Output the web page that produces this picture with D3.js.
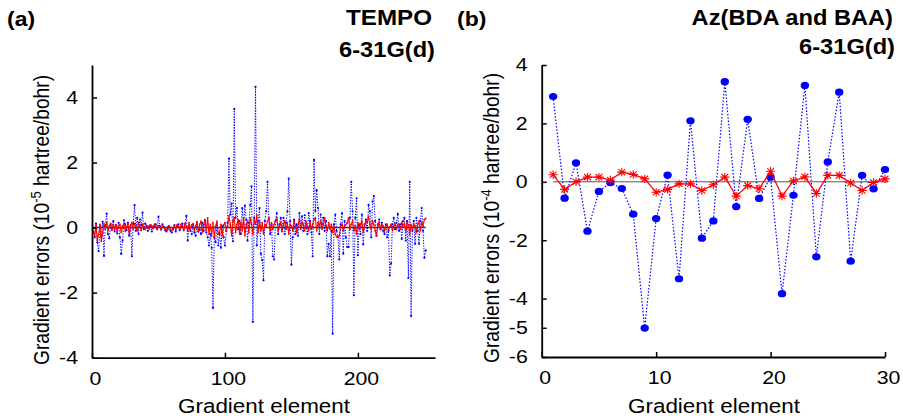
<!DOCTYPE html>
<html><head><meta charset="utf-8">
<script src="https://cdn.jsdelivr.net/npm/d3@7"></script>
<style>
body{margin:0;background:#fff}
text{font-family:"Liberation Sans",Arial,Helvetica,sans-serif;fill:#000}
</style>
</head><body>
<svg id="c" width="903" height="416"></svg>
<script>
// ---------- DATA ----------
// Panel (a): TEMPO, 6-31G(d), gradient errors (1e-5 hartree/bohr), element 1..251
const tempoBlue = [
 -0.15,-0.3,0.12,-0.45,-0.72,0.05,-0.28,0.18,-0.87,0.06,
 0.43,-0.2,-0.33,0.1,-0.05,0.2,-0.12,0.08,-0.18,0.15,
 -0.3,-0.81,-0.4,0.22,0.1,-0.08,0.15,-0.25,0.05,-0.88,
 0.12,0.69,-0.1,0.3,-0.2,0.25,0.08,0.46,-0.05,0.12,
 0.06,-0.1,0.04,0.08,-0.12,0.02,0.05,0.1,-0.04,0.34,
 0.05,-0.06,0.1,0.02,-0.08,-0.12,-0.05,0.04,-0.1,-0.15,
 -0.05,0.08,-0.12,0.05,0.1,-0.08,0.02,0.12,-0.05,0.1,
 0.36,-0.4,0.05,-0.1,-0.2,0.08,-0.15,-0.25,0.1,-0.12,
 -0.05,-0.2,0.15,-0.1,0.22,-0.15,-0.3,-0.55,-0.2,-0.62,
 -2.47,-0.3,-0.45,0.1,-0.55,-0.2,-0.62,0.05,-0.3,-0.55,
 -0.1,0.15,2.12,0.4,0.74,-0.42,3.65,0.3,0.6,-0.05,
 0.2,-0.2,0.6,0.1,0.68,0.25,-0.4,0.15,0.7,1.27,
 -2.9,0.3,4.33,-0.55,0.2,0.6,-0.8,-1.0,-1.62,0.2,
 0.5,1.41,0.3,-0.2,0.1,-0.88,-0.98,0.2,0.45,-0.2,
 0.1,0.3,-0.1,0.3,-0.2,0.15,0.5,1.51,0.2,-1.14,
 -0.3,0.25,-0.2,0.1,-0.25,0.45,0.05,0.35,-0.1,0.38,
 0.1,-0.2,0.45,0.2,-0.15,-0.88,2.08,0.5,1.15,0.6,
 -0.2,0.4,0.1,0.3,-0.1,0.2,-0.88,-0.5,-0.88,-0.1,
 -3.26,0.1,0.4,-0.1,-0.3,-0.98,0.1,0.45,-0.8,0.2,
 -0.3,-0.6,-0.6,0.3,1.41,0.5,-2.08,0.3,0.9,-0.85,
 0.1,-0.2,0.4,-0.52,0.1,0.25,-0.1,0.7,0.5,-0.3,
 0.8,0.97,0.2,-0.25,0.1,0.25,-0.05,0.15,-0.1,-0.2,
 0.1,-0.3,-0.1,-1.47,-1.1,0.1,0.3,-0.05,0.15,0.42,
 -0.1,0.1,-0.35,0.2,0.3,-0.4,0.2,-1.55,1.41,-2.72,
 -0.1,0.2,-0.5,0.3,-0.1,-0.5,0.2,0.6,-0.1,-0.93,
 -0.7
];
const tempoRed = [
 -0.1,-0.25,0.08,-0.38,-0.2,0.1,-0.42,-0.15,0.12,-0.05,
 0.15,-0.1,0.05,0.12,-0.08,0.1,-0.05,0.08,-0.12,0.06,
 0.1,-0.15,0.05,0.12,-0.1,0.02,0.1,-0.2,0.08,0.15,
 -0.05,0.12,0.05,-0.1,0.15,0.05,-0.08,0.1,0.02,-0.05,
 0.06,0.02,-0.04,0.08,0.05,-0.03,0.1,0.04,-0.06,0.05,
 0.02,-0.04,0.06,0.0,-0.05,-0.08,0.03,0.05,-0.06,-0.1,
 -0.02,0.06,-0.05,0.08,0.04,-0.06,0.1,0.05,-0.08,0.12,
 0.05,-0.1,0.15,-0.05,0.08,0.12,-0.1,0.05,0.18,-0.12,
 0.1,0.2,-0.15,0.08,0.25,-0.1,0.3,-0.2,0.1,-0.25,
 0.15,-0.3,0.05,0.2,-0.2,-0.15,0.1,-0.25,0.08,0.15,
 -0.1,0.05,0.36,0.1,-0.25,0.2,0.3,-0.15,0.1,0.25,
 -0.2,0.15,-0.1,0.3,-0.25,0.1,0.2,-0.15,0.3,0.1,
 -0.2,0.25,0.1,0.38,-0.15,0.2,-0.1,0.15,-0.2,0.1,
 0.05,0.2,0.3,-0.1,0.15,-0.05,0.1,0.2,0.3,-0.1,
 0.05,0.15,-0.12,0.1,0.2,-0.05,0.15,-0.2,0.1,0.05,
 -0.1,0.2,0.05,-0.15,0.1,0.25,-0.05,0.15,0.1,-0.1,
 0.2,0.05,-0.1,0.15,-0.05,0.1,0.25,0.3,-0.1,0.15,
 0.05,0.2,-0.05,0.1,0.3,0.05,-0.1,0.15,-0.05,0.1,
 -0.15,0.05,-0.2,-0.28,-0.3,-0.25,0.05,0.1,-0.1,0.05,
 0.1,0.15,0.3,-0.05,0.1,0.2,-0.1,0.05,-0.2,0.15,
 -0.05,0.1,0.2,-0.15,0.05,0.2,0.15,0.35,0.1,-0.05,
 0.2,0.1,-0.1,-0.25,0.05,0.15,-0.05,0.1,0.05,-0.1,
 0.05,0.1,-0.05,0.02,0.1,-0.08,0.05,0.12,-0.05,0.08,
 0.1,-0.05,0.15,0.05,0.12,-0.1,0.15,0.08,-0.2,0.1,
 -0.05,0.12,0.05,-0.15,0.1,0.2,-0.1,0.15,0.05,0.25,
 0.28
];
// Panel (b): Az(BDA and BAA), 6-31G(d), gradient errors (1e-4 hartree/bohr)
const azElements = [1,2,3,4,5,6,7,8,9,10,11,12,13,14,15,16,17,18,19,20,21,22,23,24,25,26,27,28,29,30];
const azBlue = [2.92,-0.56,0.65,-1.69,-0.33,-0.03,-0.23,-1.11,-5.01,-1.26,
                0.23,-3.32,2.09,-1.93,-1.34,3.43,-0.85,2.14,-0.57,0.16,
                -3.83,-0.46,3.30,-2.57,0.68,3.07,-2.72,0.22,-0.24,0.42];
const azRed = [0.24,-0.26,0.0,0.16,0.16,0.06,0.33,0.25,0.10,-0.36,
               -0.26,-0.07,-0.07,-0.30,-0.10,0.16,-0.49,-0.13,-0.24,0.36,
               -0.49,0.03,0.17,-0.40,0.22,0.22,-0.04,-0.30,-0.02,0.10];
// tick labels
const aTicksX = [0,100,200];
const aTicksY = [4,2,0,-2,-4];
const bTicksX = [0,10,20,30];
const bTicksY = [4,2,0,-2,-4,-5,-6];

// ---------- DRAW ----------
const svg = d3.select("#c");
const SX = 1.15;
const BLUE = "#0000ff", RED = "#ff0000";

function label(x, y, str, size, weight, anchor, sx) {
  return svg.append("text")
    .attr("transform", `translate(${x},${y}) scale(${sx},1)`)
    .attr("text-anchor", anchor).attr("font-size", size)
    .attr("font-weight", weight).text(str);
}
function yTitle(x, y, exp) {
  const t = svg.append("text")
    .attr("transform", `translate(${x},${y}) rotate(-90) scale(1,${SX})`)
    .attr("text-anchor", "middle").attr("font-size", 19.2);
  t.append("tspan").text("Gradient errors (10");
  t.append("tspan").attr("font-size", 13).attr("dy", -7).text(exp);
  t.append("tspan").attr("dy", 7).text(" hartree/bohr)");
}
function axes(x, y, xt, yt) {
  const fmt = d => String(d);
  const gx = svg.append("g").attr("transform", `translate(0,${y.range()[0]})`)
    .call(d3.axisBottom(x).tickValues(xt).tickSize(-5).tickSizeOuter(0).tickPadding(14).tickFormat(fmt));
  const gy = svg.append("g").attr("transform", `translate(${x.range()[0]},0)`)
    .call(d3.axisLeft(y).tickValues(yt).tickSize(-5).tickSizeOuter(0).tickPadding(14).tickFormat(fmt));
  [gx, gy].forEach(g => {
    g.attr("font-size", 18.5).attr("font-family", null);
    g.select(".domain").attr("stroke", "#000").attr("stroke-width", 1.8);
    g.selectAll(".tick line").attr("stroke", "#000").attr("stroke-width", 1.5);
    g.selectAll(".tick text").attr("fill", "#000");
  });
  gx.selectAll(".tick text").attr("transform", `scale(${SX},1)`).attr("x", 3 / SX);
  gy.selectAll(".tick text").attr("transform", `scale(${SX},1)`).attr("x", -14 / SX);
}

// Panel (a)
const ax = d3.scaleLinear().domain([0, 258]).range([92, 435]);
const ay = d3.scaleLinear().domain([-4, 5]).range([357.7, 65]);
const aIdx = tempoBlue.map((_, i) => i + 1);

svg.append("line").attr("x1", ax(0)).attr("x2", ax(aIdx[aIdx.length - 1]))
  .attr("y1", ay(0)).attr("y2", ay(0)).attr("stroke", "#333").attr("stroke-width", 1.5);

const lineA = d3.line().x((d, i) => ax(aIdx[i])).y(d => ay(d));
svg.append("path").attr("d", lineA(tempoBlue)).attr("fill", "none")
  .attr("stroke", BLUE).attr("stroke-width", 1).attr("stroke-dasharray", "1.3,1.4");
svg.append("g").selectAll("circle").data(tempoBlue).join("circle")
  .attr("cx", (d, i) => ax(aIdx[i])).attr("cy", d => ay(d)).attr("r", 1.1).attr("fill", BLUE);
svg.append("path").attr("d", lineA(tempoRed)).attr("fill", "none")
  .attr("stroke", RED).attr("stroke-width", 1.1);
svg.append("g").selectAll("circle").data(tempoRed).join("circle")
  .attr("cx", (d, i) => ax(aIdx[i])).attr("cy", d => ay(d)).attr("r", 0.9).attr("fill", RED);

axes(ax, ay, aTicksX, aTicksY);

// Panel (b)
const bx = d3.scaleLinear().domain([0, 30]).range([541.7, 885]);
const by = d3.scaleLinear().domain([-6, 4]).range([357, 65]);

svg.append("line").attr("x1", bx(azElements[0])).attr("x2", bx(azElements[azElements.length - 1]) + 3)
  .attr("y1", by(0)).attr("y2", by(0)).attr("stroke", "#555").attr("stroke-width", 1);

const lineB = d3.line().x((d, i) => bx(azElements[i])).y(d => by(d));
svg.append("path").attr("d", lineB(azBlue)).attr("fill", "none")
  .attr("stroke", BLUE).attr("stroke-width", 1.2).attr("stroke-dasharray", "1.5,1.8");
svg.append("g").selectAll("ellipse").data(azBlue).join("ellipse")
  .attr("cx", (d, i) => bx(azElements[i])).attr("cy", d => by(d))
  .attr("rx", 4.2).attr("ry", 3.6).attr("fill", BLUE);
svg.append("path").attr("d", lineB(azRed)).attr("fill", "none")
  .attr("stroke", RED).attr("stroke-width", 1.3);
const star = "M-4.6,0L4.6,0M0,-4.2L0,4.2M-3.4,-3.1L3.4,3.1M-3.4,3.1L3.4,-3.1";
svg.append("g").selectAll("path").data(azRed).join("path")
  .attr("transform", (d, i) => `translate(${bx(azElements[i])},${by(d)})`)
  .attr("d", star).attr("stroke", RED).attr("stroke-width", 1.1).attr("fill", "none");

axes(bx, by, bTicksX, bTicksY);

// Texts
label(7, 26, "(a)", 20.5, "bold", "start", 1.12);
label(432, 25, "TEMPO", 22, "bold", "end", 1.1);
label(435, 57, "6-31G(d)", 21.5, "bold", "end", 1.1);
label(457, 26, "(b)", 20.5, "bold", "start", 1.12);
label(893, 25, "Az(BDA and BAA)", 21.5, "bold", "end", 1.1);
label(895, 54, "6-31G(d)", 21.5, "bold", "end", 1.1);
label(264, 413, "Gradient element", 19.5, "normal", "middle", SX);
label(714, 413, "Gradient element", 19.5, "normal", "middle", SX);
yTitle(49, 220, "-5");
yTitle(499, 218, "-4");
</script>
</body></html>
